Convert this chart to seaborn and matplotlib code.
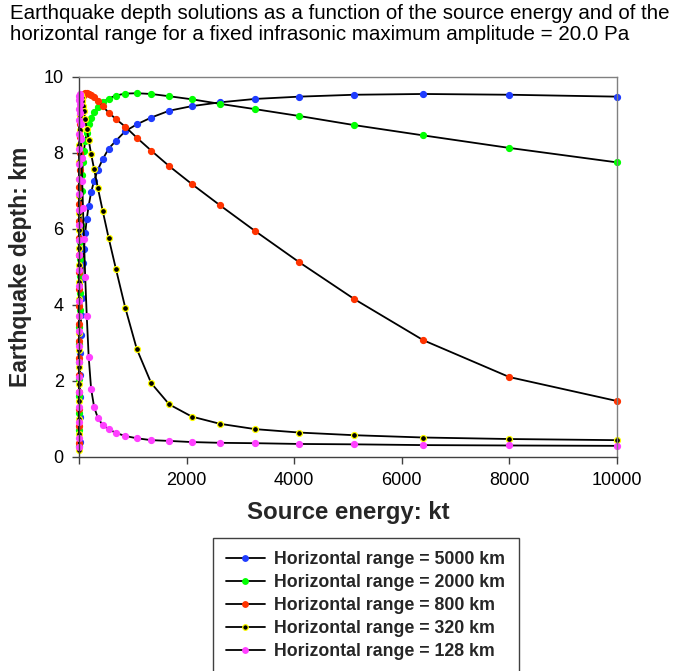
import matplotlib
matplotlib.use("Agg")
import matplotlib.pyplot as plt
import pandas as pd
import seaborn as sns
from matplotlib.lines import Line2D

# ---- data ----
ENERGY_KT = [10000, 8000, 6400, 5120, 4096, 3276.8, 2621.4, 2097.2, 1677.7, 1342.2,
             1073.7, 859.0, 687.2, 549.8, 439.8, 351.8, 281.5, 225.2, 180.1, 144.1,
             115.3, 92.2, 73.8, 59.0, 47.2, 37.8, 30.2, 24.2, 19.3, 15.5,
             12.4, 9.9, 7.9, 6.3, 5.1, 4.1, 3.2, 2.6, 2.1, 1.7,
             1.33, 1.06, 0.85, 0.68, 0.54, 0.44, 0.35, 0.28, 0.22, 0.18,
             0.14, 0.11, 0.09, 0.07, 0.06, 0.05, 0.04, 0.03]

DEPTH_5000 = [9.47, 9.52, 9.54, 9.52, 9.47, 9.41, 9.32, 9.22, 9.10, 8.92,
              8.74, 8.56, 8.31, 8.10, 7.82, 7.55, 7.26, 6.95, 6.60, 6.25,
              5.88, 5.45, 5.08, 4.66, 4.18, 3.72, 3.20, 2.72, 2.14, 1.57,
              1.05, 0.39]

DEPTH_2000 = [7.74, 8.12, 8.45, 8.72, 8.96, 9.14, 9.28, 9.40, 9.48, 9.54,
              9.56, 9.55, 9.50, 9.42, 9.32, 9.20, 9.06, 8.92, 8.75, 8.52,
              8.30, 8.05, 7.75, 7.40, 7.00, 6.55, 6.10, 5.65, 5.20, 4.75,
              4.30, 3.85, 3.40, 2.95, 2.50, 2.05, 1.60, 1.15, 0.70, 0.28]

DEPTH_800 = [1.46, 2.09, 3.06, 4.14, 5.11, 5.93, 6.61, 7.17, 7.64, 8.05,
             8.39, 8.68, 8.88, 9.05, 9.22, 9.36, 9.45, 9.51, 9.55, 9.56,
             9.56, 9.54, 9.50, 9.45, 9.38, 9.30, 9.18, 9.00, 8.75, 8.40,
             8.00, 7.55, 7.10, 6.65, 6.20, 5.75, 5.30, 4.85, 4.40, 3.95,
             3.50, 3.05, 2.60, 2.15, 1.70, 1.25, 0.80, 0.35]

DEPTH_320 = [0.43, 0.46, 0.50, 0.56, 0.63, 0.72, 0.86, 1.05, 1.37, 1.93,
             2.83, 3.92, 4.93, 5.76, 6.47, 7.06, 7.56, 7.96, 8.33, 8.62,
             8.87, 9.08, 9.23, 9.35, 9.44, 9.50, 9.52, 9.48, 9.38, 9.20,
             8.95, 8.60, 8.20, 7.75, 7.30, 6.85, 6.40, 5.95, 5.50, 5.05,
             4.60, 4.15, 3.70, 3.25, 2.80, 2.35, 1.90, 1.45, 1.00, 0.58,
             0.17]

DEPTH_128 = [0.28, 0.29, 0.30, 0.32, 0.33, 0.35, 0.36, 0.38, 0.41, 0.43,
             0.48, 0.54, 0.62, 0.72, 0.83, 1.01, 1.30, 1.78, 2.62, 3.70,
             4.72, 5.72, 6.55, 7.25, 7.85, 8.35, 8.75, 9.05, 9.28, 9.42,
             9.50, 9.53, 9.50, 9.38, 9.15, 8.85, 8.50, 8.10, 7.70, 7.30,
             6.90, 6.50, 6.10, 5.70, 5.30, 4.90, 4.50, 4.10, 3.70, 3.30,
             2.90, 2.50, 2.10, 1.70, 1.30, 0.90, 0.50, 0.25]

SERIES_LABELS = ["Horizontal range = 5000 km", "Horizontal range = 2000 km",
                 "Horizontal range = 800 km", "Horizontal range = 320 km",
                 "Horizontal range = 128 km"]
SERIES_DEPTHS = [DEPTH_5000, DEPTH_2000, DEPTH_800, DEPTH_320, DEPTH_128]
MARKER_FACE = ["#1f3cff", "#00ff00", "#ff3300", "#000000", "#ff40ff"]
MARKER_EDGE = ["#1f3cff", "#00ff00", "#ff3300", "#ffff00", "#ff40ff"]

X_TICKS = [0, 2000, 4000, 6000, 8000, 10000]
X_TICK_LABELS = ["", "2000", "4000", "6000", "8000", "10000"]
Y_TICKS = [0, 2, 4, 6, 8, 10]

TITLE = ("Earthquake depth solutions as a function of the source energy and of the\n"
         "horizontal range for a fixed infrasonic maximum amplitude = 20.0 Pa")

# ---- style ----
sns.set_theme(style="ticks")
plt.rcParams["font.family"] = ["Liberation Sans", "DejaVu Sans"]

W, H = 684, 671
fig = plt.figure(figsize=(W / 100, H / 100), dpi=100)
L, R, T, B = 79, 617, 76.5, 456.5
ax = fig.add_axes([L / W, 1 - B / H, (R - L) / W, (B - T) / H])

handles = []
for label, depths, fc, ec in zip(SERIES_LABELS, SERIES_DEPTHS, MARKER_FACE, MARKER_EDGE):
    df = pd.DataFrame({"energy": ENERGY_KT[:len(depths)], "depth": depths})
    sns.lineplot(data=df, x="energy", y="depth", ax=ax, color="black", linewidth=1.3,
                 marker="o", markersize=4.3, markerfacecolor=fc, markeredgecolor=ec,
                 markeredgewidth=0.9, estimator=None, legend=False, clip_on=False)
    handles.append(Line2D([0], [0], color="black", linewidth=1.3, marker="o",
                          markersize=4.0, markerfacecolor=fc, markeredgecolor=ec,
                          markeredgewidth=0.9))

ax.set_xlim(0, 10000)
ax.set_ylim(0, 10)
ax.set_xticks(X_TICKS)
ax.set_xticklabels(X_TICK_LABELS)
ax.set_yticks(Y_TICKS)
ax.tick_params(axis="both", direction="out", length=5, width=1, color="#404040",
               labelsize=13, labelcolor="black", bottom=True, left=True, pad=6)

for side in ["left", "bottom"]:
    ax.spines[side].set_color("#404040")
    ax.spines[side].set_linewidth(1.0)
for side in ["top", "right"]:
    ax.spines[side].set_visible(True)
    ax.spines[side].set_color("#808080")
    ax.spines[side].set_linewidth(1.0)

ax.set_xlabel("Source energy: kt", fontsize=17.3, fontweight="bold", labelpad=9)
ax.set_ylabel("Earthquake depth: km", fontsize=16.5, fontweight="bold", labelpad=8)

fig.text(10 / W, 1 - 4 / H, TITLE, ha="left", va="top", fontsize=14.8,
         linespacing=1.1, color="black")

leg = fig.legend(handles, SERIES_LABELS, loc="upper left",
                 bbox_to_anchor=(213 / W, 1 - 538 / H), frameon=True, fancybox=False,
                 edgecolor="#404040", framealpha=1, prop={"weight": "bold", "size": 12.8},
                 handlelength=2.15, handletextpad=0.55, labelspacing=0.33,
                 borderpad=0.75, borderaxespad=0)
leg.get_frame().set_linewidth(1.0)

fig.savefig("out.png", dpi=100)
